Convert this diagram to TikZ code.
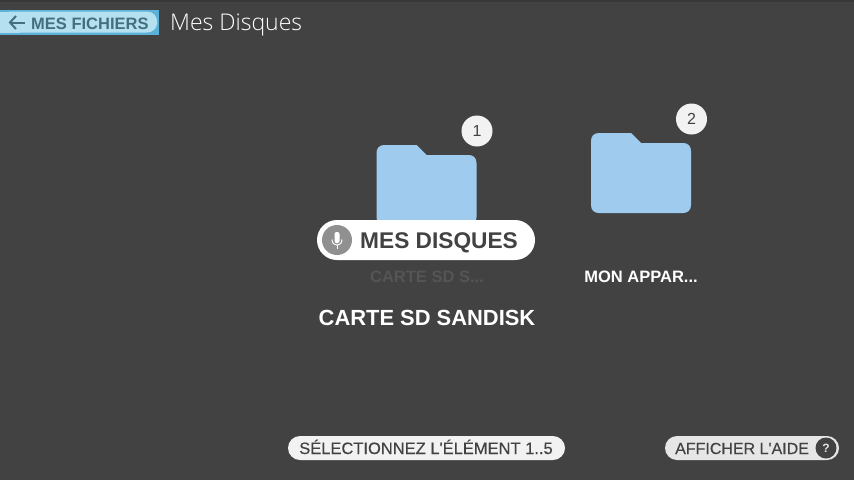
\documentclass[tikz,border=0pt]{standalone}
\usepackage{fontspec}
\setmainfont{Liberation Sans}
\newfontfamily\lightfont[UprightFont=* Light]{Open Sans}
\newfontfamily\mediumfont[FakeBold=0.25]{Liberation Sans}
\definecolor{screenbg}{HTML}{424242}
\definecolor{topline}{HTML}{383838}
\definecolor{folderblue}{HTML}{9FCBEE}
\definecolor{backfill}{HTML}{B5E0F0}
\definecolor{backedge}{HTML}{5BB1D8}
\definecolor{backtext}{HTML}{43707F}
\definecolor{darktext}{HTML}{424242}
\definecolor{micgray}{HTML}{909090}
\definecolor{hintlight}{HTML}{F2F2F2}
\definecolor{hintgray}{HTML}{E6E6E6}
\definecolor{fadedtext}{HTML}{555555}
\tikzset{
  badge/.style={circle, fill=hintlight, text=darktext, minimum size=31pt, inner sep=0pt, font=\fontsize{16}{16}\selectfont},
  hintpill/.style={rounded corners=12pt, minimum height=24pt, inner sep=0pt},
  hinttext/.style={text=darktext, inner sep=0pt, font=\mediumfont\fontsize{16.5}{16.5}\selectfont},
  filelabel/.style={text=white, inner sep=0pt, anchor=base, font=\bfseries\fontsize{16.5}{16.5}\selectfont},
  pics/folder/.style={code={
    \fill[folderblue] (8,0) -- (40,0) -- (50,10) -- (92,10)
      .. controls (97,10) and (100,13) .. (100,18) -- (100,72)
      .. controls (100,77) and (97,80) .. (92,80) -- (8,80)
      .. controls (3,80) and (0,77) .. (0,72) -- (0,8)
      .. controls (0,3) and (3,0) .. (8,0) -- cycle;
  }}
}
\begin{document}
\begin{tikzpicture}[x=1pt, y=-1pt]
    \useasboundingbox (0,0) rectangle (854,480);
    \fill[screenbg] (0,0) rectangle (854,480);
    \fill[topline] (0,0) rectangle (854,1.5);
    % Top bar
    \fill[backedge] (0,10) rectangle (159,35);
    \node[fill=backfill, rounded corners=10pt, minimum width=157pt, minimum height=21pt, inner sep=0pt, anchor=west] (backpill) at (0,22) {};
    \fill[backfill] (0,12) rectangle (20,33);
    \node[text=backtext, inner sep=0pt, anchor=base west, font=\bfseries\fontsize{16.5}{16.5}\selectfont] (backlabel) at (31,29) {MES FICHIERS};
    \coordinate (arrowtail) at (25,22.5);
    \coordinate (arrowhead) at (10,22.5);
    \draw[backtext, line width=2pt] (arrowtail) -- (arrowhead);
    \draw[backtext, line width=2pt] (16,16) -- (arrowhead) -- (16,29);
    \node[text=white, inner sep=0pt, anchor=base west, font=\lightfont\fontsize{23}{23}\selectfont] (title) at (170,30.5) {Mes Disques};
    % Folders and badges
    \foreach \name/\px/\py/\num in {first/376.5/145/1,second/591/133/2}
    {
        \pic (\name) at (\px,\py) {folder};
        \node[badge] (badge\num) at (\px+100.5,\py-14) {\num};
    }
    % Voice pill
    \node[fill=white, rounded corners=20pt, minimum width=218pt, minimum height=40pt, inner sep=0pt] (voicepill) at (426,240) {};
    \node[circle, fill=micgray, minimum size=30pt, inner sep=0pt] (micdisc) at (337,240) {};
    \fill[white, rounded corners=2pt] (334.5,232) rectangle (339.5,243);
    \draw[white, line width=1pt] (332,239.5) .. controls (332,247) and (342,247) .. (342,239.5);
    \draw[white, line width=1pt] (337,245) -- (337,249);
    \node[text=darktext, inner sep=0pt, anchor=base west, font=\bfseries\fontsize{22.7}{22.7}\selectfont] (voicelabel) at (360,248.5) {MES DISQUES};
    % File labels
    \node[filelabel, text=fadedtext] (label1) at (427,282.5) {CARTE SD S...};
    \node[filelabel] (label2) at (641,282.5) {MON APPAR...};
    \node[filelabel, font=\bfseries\fontsize{21.9}{21.9}\selectfont] (fullname) at (427,325) {CARTE SD SANDISK};
    % Bottom hints
    \node[hintpill, fill=hintlight, minimum width=277pt] (selectpill) at (426.5,448) {};
    \node[hinttext, anchor=base] (selecthint) at (426,454) {SÉLECTIONNEZ L'ÉLÉMENT 1..5};
    \node[hintpill, fill=hintgray, minimum width=174pt] (helppill) at (752,448) {};
    \node[hinttext, anchor=base west, font=\mediumfont\fontsize{16}{16}\selectfont] (helplabel) at (675,454) {AFFICHER L'AIDE};
    \node[circle, fill=darktext, text=hintgray, minimum size=21pt, inner sep=0pt, font=\bfseries\fontsize{12}{12}\selectfont] (helpdot) at (826,448) {?};
\end{tikzpicture}
\end{document}
